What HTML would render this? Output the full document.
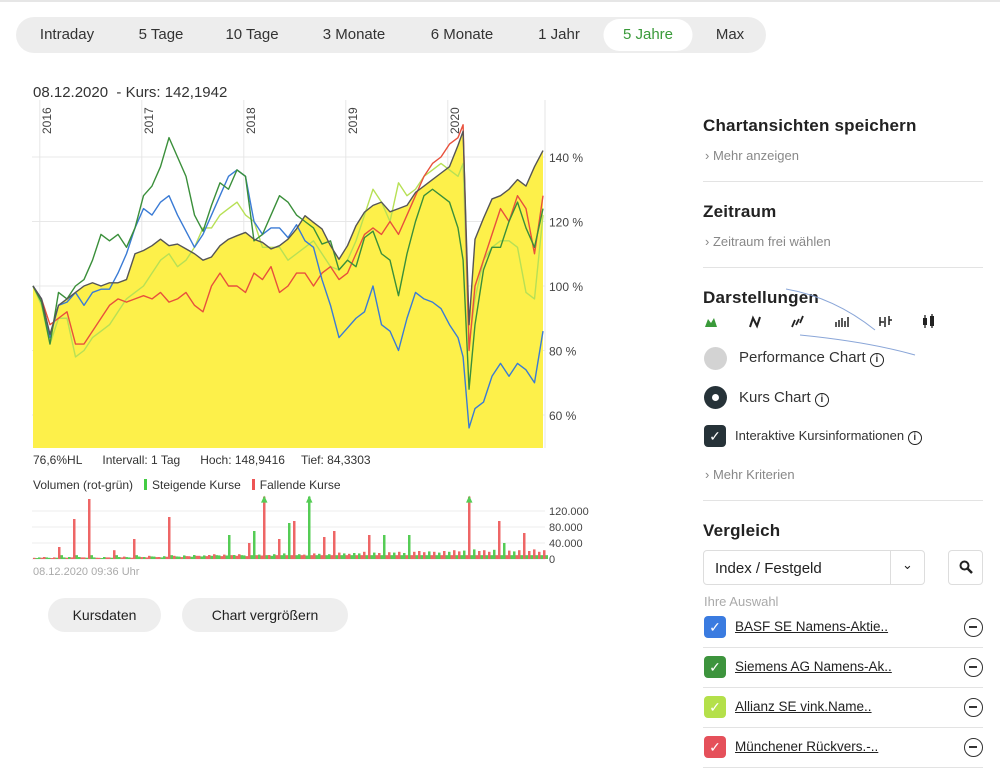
<!DOCTYPE html>
<html><head><meta charset="utf-8">
<style>
*{box-sizing:border-box;margin:0;padding:0}
body{width:1000px;height:779px;background:#fff;font-family:"Liberation Sans",sans-serif;color:#333;position:relative;overflow:hidden}
.abs{position:absolute}
.tabs{left:16px;top:17px;width:750px;height:36px;background:#ededed;border-radius:18px}
.tab{position:absolute;top:0;height:36px;line-height:36px;font-size:15px;color:#333;text-align:center;transform:translateX(-50%);white-space:nowrap}
.tab.active{background:#fff;border-radius:16px;top:2px;height:32px;line-height:32px;width:89px;color:#3a9a3a}
.h{font-size:17px;color:#222;font-weight:bold;letter-spacing:0.2px}
.sub{font-size:13px;color:#888}
.div{height:1px;background:#e3e3e3;left:703px;width:280px}
.btn{background:#eee;border-radius:17px;height:34px;line-height:34px;text-align:center;font-size:14px;color:#222}
.item{left:735px;font-size:13.5px;color:#222;text-decoration:underline}
.cb{left:704px;width:22px;height:22px;border-radius:4px;color:#fff;font-size:14px;text-align:center;line-height:22px}
.minus{left:964px;width:19px;height:19px;border:1.6px solid #333;border-radius:50%}
.minus:after{content:"";position:absolute;left:4px;top:7px;width:8px;height:1.6px;background:#333}
</style></head><body>
<div class="abs" style="left:0;top:0;width:1000px;height:2px;background:#e6e6e6"></div>
<div class="abs tabs">
<div class="tab" style="left:51px">Intraday</div>
<div class="tab" style="left:145px">5 Tage</div>
<div class="tab" style="left:236px">10 Tage</div>
<div class="tab" style="left:338px">3 Monate</div>
<div class="tab" style="left:446px">6 Monate</div>
<div class="tab" style="left:543px">1 Jahr</div>
<div class="tab active" style="left:632px">5 Jahre</div>
<div class="tab" style="left:714px">Max</div>
</div>
<div class="abs" style="left:33px;top:84px;font-size:15px;color:#333">08.12.2020&nbsp; - Kurs: 142,1942</div>

<svg class="abs" id="chart" style="left:0;top:0" width="600" height="600"></svg>

<div class="abs" style="left:33px;top:453px;font-size:12px;color:#333;white-space:nowrap">76,6%HL<span style="margin-left:20px">Intervall: 1 Tag</span><span style="margin-left:20px">Hoch: 148,9416</span><span style="margin-left:16px">Tief: 84,3303</span></div>
<div class="abs" style="left:33px;top:478px;font-size:12px;color:#333;white-space:nowrap">Volumen (rot-grün)<span style="display:inline-block;width:3px;height:11px;background:#4c4;margin:0 5px 0 11px;vertical-align:-1px"></span>Steigende Kurse<span style="display:inline-block;width:3px;height:11px;background:#e55;margin:0 5px 0 11px;vertical-align:-1px"></span>Fallende Kurse</div>
<div class="abs" style="left:33px;top:566px;font-size:11px;color:#aaa">08.12.2020 09:36 Uhr</div>
<div class="abs btn" style="left:48px;top:598px;width:113px">Kursdaten</div>
<div class="abs btn" style="left:182px;top:598px;width:166px">Chart vergrößern</div>

<div class="abs h" style="left:703px;top:116px">Chartansichten speichern</div>
<div class="abs sub" style="left:705px;top:148px">›&nbsp;Mehr anzeigen</div>
<div class="abs div" style="top:181px"></div>
<div class="abs h" style="left:703px;top:202px">Zeitraum</div>
<div class="abs sub" style="left:705px;top:234px">›&nbsp;Zeitraum frei wählen</div>
<div class="abs div" style="top:267px"></div>
<div class="abs h" style="left:703px;top:288px">Darstellungen</div>
<svg class="abs" style="left:700px;top:310px" width="245" height="22">
<path d="M5 17 L8 9 L11 13 L14 8 L17 17Z" fill="#3a9a3a"/>
<path d="M50 17 L53 8 L57 16 L60 7" stroke="#222" stroke-width="2" fill="none"/>
<path d="M92 17 L95 10 M96 15 L99 9 M100 13 L103 6" stroke="#222" stroke-width="1.8" fill="none"/>
<g stroke="#222" stroke-width="1.5"><path d="M136 17v-5M139 17v-7M142 17v-9M145 17v-6M148 17v-10"/><path d="M180 16v-9M180 12h4M185 17v-10M189 15v-9M189 10h3"/></g>
<g fill="#222"><rect x="223" y="8" width="4" height="7"/><rect x="230" y="6" width="4" height="10"/><path d="M225 5v13M232 4v14" stroke="#222" stroke-width="1.3"/></g>
</svg>
<svg class="abs" style="left:760px;top:285px" width="160" height="80"><path d="M26 4 C60 10 90 25 115 45" stroke="#8aa6d8" stroke-width="1" fill="none"/><path d="M40 50 C80 54 120 60 155 70" stroke="#8aa6d8" stroke-width="1" fill="none"/></svg>
<div class="abs" style="left:704px;top:347px;width:23px;height:23px;border-radius:50%;background:#d3d3d3"></div>
<div class="abs" style="left:739px;top:349px;font-size:15px;color:#333">Performance Chart <span style="display:inline-block;width:14px;height:14px;border:1.5px solid #222;border-radius:50%;font-size:10px;line-height:11px;text-align:center;font-weight:bold">i</span></div>
<div class="abs" style="left:704px;top:386px;width:23px;height:23px;border-radius:50%;background:#263238"><div style="position:absolute;left:8px;top:8px;width:7px;height:7px;border-radius:50%;background:#fff"></div></div>
<div class="abs" style="left:739px;top:389px;font-size:15px;color:#333">Kurs Chart <span style="display:inline-block;width:14px;height:14px;border:1.5px solid #222;border-radius:50%;font-size:10px;line-height:11px;text-align:center;font-weight:bold">i</span></div>
<div class="abs cb" style="top:425px;background:#263238">✓</div>
<div class="abs" style="left:735px;top:428px;font-size:13px;color:#333">Interaktive Kursinformationen <span style="display:inline-block;width:14px;height:14px;border:1.5px solid #222;border-radius:50%;font-size:10px;line-height:11px;text-align:center;font-weight:bold">i</span></div>
<div class="abs sub" style="left:705px;top:467px">›&nbsp;Mehr Kriterien</div>
<div class="abs div" style="top:500px"></div>
<div class="abs h" style="left:703px;top:521px">Vergleich</div>
<div class="abs" style="left:703px;top:550px;width:222px;height:35px;border:1px solid #ddd;border-radius:4px"><span style="position:absolute;left:11px;top:9px;font-size:15px;color:#222">Index / Festgeld</span><div style="position:absolute;left:186px;top:0;width:1px;height:33px;background:#ddd"></div><span style="position:absolute;left:198px;top:6px;font-size:13px;color:#222">⌄</span></div>
<div class="abs" style="left:948px;top:550px;width:35px;height:35px;border:1px solid #ddd;border-radius:4px;text-align:center;line-height:33px;font-size:14px"><svg width="14" height="14" style="vertical-align:-2px"><circle cx="5.5" cy="5.5" r="4" stroke="#222" stroke-width="2" fill="none"/><path d="M8.5 8.5 L13 13" stroke="#222" stroke-width="2.5"/></svg></div>
<div class="abs" style="left:704px;top:594px;font-size:13px;color:#aaa">Ihre Auswahl</div>
<div class="abs cb" style="top:616px;background:#3a7be0">✓</div>
<div class="abs item" style="top:619px">BASF SE Namens-Aktie..</div>
<div class="abs minus" style="top:618px"></div>
<div class="abs div" style="top:647px"></div>
<div class="abs cb" style="top:656px;background:#3d943d">✓</div>
<div class="abs item" style="top:659px">Siemens AG Namens-Ak..</div>
<div class="abs minus" style="top:658px"></div>
<div class="abs div" style="top:687px"></div>
<div class="abs cb" style="top:696px;background:#b4e04a">✓</div>
<div class="abs item" style="top:699px">Allianz SE vink.Name..</div>
<div class="abs minus" style="top:698px"></div>
<div class="abs div" style="top:727px"></div>
<div class="abs cb" style="top:736px;background:#e5505a">✓</div>
<div class="abs item" style="top:739px">Münchener Rückvers.-..</div>
<div class="abs minus" style="top:738px"></div>
<div class="abs div" style="top:767px"></div>

<script>
// months since Dec 2015
const months=[0,1,2,3,4,5,6,7,8,9,10,11,12,13,14,15,16,17,18,19,20,21,22,23,24,25,26,27,28,29,30,31,32,33,34,35,36,37,38,39,40,41,42,43,44,45,46,47,48,49,50,50.6,51.3,52,53,54,55,56,57,58,59,60];
const mainValues=[100,96,85,94,96,98,100,101,100,101,101,102,110,111,112.5,114.5,112.5,113,111.5,110,108,109,112.5,114.5,115.6,116.6,114.5,113.5,111.5,112.5,114.5,117.7,121.8,119.7,117.7,112.5,108.3,112.5,118.7,122.9,125,126,123,124,125,129,131,133,135,137,143.6,148,88,114.5,121,127,128,130,133,131,137,142];
const siemens=[100,95,82,98,96,100,102,108,116,114,116,112,118,128,131,137,146,140,134,122,117,125,132,130,136,134,114,116,122,128,126,122,120,118,113,114,105,108,106,115,117,110,108,97,110,120,128,130,128,126,118,108,68,88,105,112,112,120,126,118,112,124];
const basf=[100,96,84,94,95,98,94,98,99,99,104,110,118,124,122,126,128,122,117,112,116,122,128,134,136,134,120,116,118,118,115,119,114,112,102,94,84,87,90,92,100,88,86,80,90,98,96,95,93,88,84,78,56,62,64,72,76,72,76,74,70,86];
const allianz=[100,94,82,90,90,78,80,84,86,88,92,96,98,100,104,108,110,106,108,112,118,118,122,124,126,122,120,112,112,112,108,110,112,114,110,106,105,108,114,122,130,126,120,132,128,130,134,136,138,136,134,138,82,96,108,112,114,114,112,98,96,122];
const muenchener=[100,96,88,90,92,82,82,86,90,94,96,95,96,97,96,98,95,96,98,94,92,100,104,100,100,98,104,102,106,98,100,104,104,100,104,106,102,104,110,116,118,116,120,116,122,128,134,138,140,144,146,150,80,100,108,116,124,120,128,124,110,128];
const yTicks=[60,80,100,120,140];
const yearLabels=["2016","2017","2018","2019","2020"];
const yearMonths=[0.8,12.8,24.8,36.8,48.8];
// volume (thousands) per half-month slot, and direction
const volumes=[3,4,5,3,4,30,4,5,100,5,4,150,4,3,5,4,22,5,6,4,50,6,5,8,6,5,7,105,8,6,9,7,10,8,9,10,12,9,11,60,10,12,9,40,70,11,200,10,12,50,14,90,95,12,11,200,14,13,55,12,70,16,14,13,15,14,18,60,16,15,60,17,16,18,15,60,18,20,17,19,18,16,20,18,22,19,21,200,24,20,22,18,23,95,40,21,19,22,65,20,24,18,22];
const dirs="rgrgrrggrgrrgrgrrgrgrggrgrgrrggrgrgrrgrggrgrggrrgrggrgrgrgrgrrgrggrrgrgrgrggrrrgrgrgrrgrgrrrgrgrgr";
const volTicks=[0,40,80,120];
const volTickLabels=["0","40.000","80.000","120.000"];

const NS="http://www.w3.org/2000/svg";
const svg=document.getElementById('chart');
const X0=33,PX=8.5,PL=32,PR=545,PT=108,PB=448;
const xs=m=>X0+m*PX;
const ys=v=>286-(v-100)*3.225;
const VB=559,VS=0.4;
const yv=v=>VB-Math.min(v,156)*VS;
function mk(tag,attrs){const e=document.createElementNS(NS,tag);for(const k in attrs)e.setAttribute(k,attrs[k]);svg.appendChild(e);return e;}
// grid
yTicks.forEach(t=>{const l=mk('line',{x1:PL,x2:PR,y1:ys(t),y2:ys(t),stroke:'#e8e8e8'});


const tx=mk('text',{x:549,y:ys(t)+5,'font-size':12,fill:'#444'});tx.textContent=t+' %';

});
yearMonths.forEach((m,i)=>{const l=mk('line',{x1:xs(m),x2:xs(m),y1:PT-8,y2:PB,stroke:'#e6e6e6'});


const tx=mk('text',{x:0,y:0,'font-size':12,fill:'#444',transform:`translate(${xs(m)+11},${PT+26}) rotate(-90)`});tx.textContent=yearLabels[i];

});
mk('line',{x1:PR,x2:PR,y1:PT-8,y2:PB,stroke:'#e6e6e6'});
// area
let d=`M${xs(months[0])},${PB}`;months.forEach((m,i)=>d+=`L${xs(m)},${ys(mainValues[i])}`);d+=`L${xs(months[months.length-1])},${PB}Z`;
const area=mk('path',{d,fill:'#fdf04a'});


function line(vals,col,name){const p=mk('path',{d:months.map((m,i)=>(i?'L':'M')+xs(m)+','+ys(vals[i])).join(''),stroke:col,'stroke-width':1.4,fill:'none','stroke-linejoin':'round'});

}
line(allianz,'#b7e055','allianz-line');
line(muenchener,'#e8503c','muenchener-line');
line(basf,'#3a7bd5','basf-line');
line(siemens,'#3a8f3a','siemens-line');
line(mainValues,'#555','main-stock-line');
// volume grid
volTicks.forEach((t,i)=>{const l=mk('line',{x1:PL,x2:PR,y1:VB-t*VS,y2:VB-t*VS,stroke:'#eee'});


const tx=mk('text',{x:549,y:VB-t*VS+4,'font-size':11,fill:'#444'});tx.textContent=volTickLabels[i];

});
volumes.forEach((v,i)=>{const x=X0+i*5;const col=dirs[i]==='g'?'#5c5':'#e66';
const r=mk('rect',{x:x,y:yv(v),width:2.5,height:VB-yv(v),fill:col});


const r2=mk('rect',{x:x+2.5,y:yv(Math.min(v,12)*0.8),width:2.5,height:VB-yv(Math.min(v,12)*0.8),fill:dirs[i]==='g'?'#e66':'#5c5'});


if(v>156){const a=mk('path',{d:`M${x-2},${yv(v)+6}L${x+1.25},${yv(v)-1}L${x+4.5},${yv(v)+6}Z`,fill:'#5c5'});

}});
</script>
</body></html>
